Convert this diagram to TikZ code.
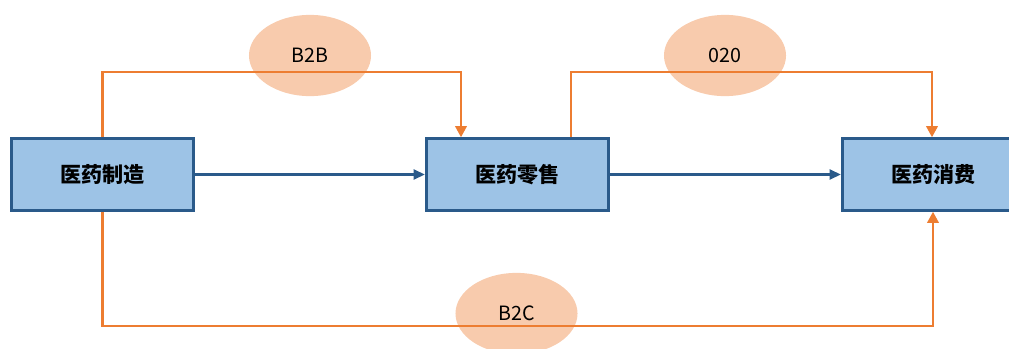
\documentclass[tikz,border=0pt]{standalone}
\usepackage{fontspec}
\newfontfamily\cjk{Noto Sans CJK SC}
\usetikzlibrary{shapes.geometric,arrows.meta}
\definecolor{boxfill}{HTML}{9DC3E6}
\definecolor{boxline}{HTML}{2A5A8A}
\definecolor{flowline}{HTML}{ED7D31}
\definecolor{modefill}{HTML}{F8CBAD}

\begin{document}
\begin{tikzpicture}[x=0.025cm, y=0.025cm]
\tikzset{
  stage/.style={draw=boxline, fill=boxfill, line width=2.2pt, minimum width=4.55cm,
    minimum height=1.78cm, inner sep=0pt, font=\cjk\bfseries\fontsize{15}{18}\selectfont},
  mode/.style={ellipse, fill=modefill, minimum width=3.05cm, minimum height=2.03cm,
    inner sep=0pt, font=\cjk\fontsize{14}{16}\selectfont},
  orangeflow/.style={flowline, line width=2pt, -{Triangle[length=8pt,width=8pt]}},
  blueflow/.style={boxline, line width=1.7pt, -{Triangle[length=8pt,width=7pt]}}
}
\useasboundingbox (0,0) rectangle (1009,-349);
\clip (0,0) rectangle (1009,-349);
% ellipses behind the lines
\node[mode] (b2b) at (310,-55.5) {B2B};
\node[mode] (o2o) at (725,-55.5) {020};
\node[mode] (b2c) at (516.5,-313.5) {B2C};
% stages
\node[stage] (make) at (102.5,-174.5) {医药制造};
\node[stage] (retail) at (517.5,-174.5) {医药零售};
\node[stage] (use) at (933.5,-174.5) {医药消费};
% turning points of the orange lines
\coordinate (b2bturn) at (461,-72);
\coordinate (o2ostart) at (571,-72);
\coordinate (o2oturn) at (932,-72);
\coordinate (b2cturn) at (933,-326);
\draw[orangeflow] (make.north) |- (b2bturn) -- (b2bturn |- retail.north);
\draw[orangeflow] (o2ostart |- retail.north) -- (o2ostart) -- (o2oturn) -- (o2oturn |- use.north);
\draw[orangeflow] (make.south) |- (b2cturn) -- (b2cturn |- use.south);
\draw[blueflow] (make.east) -- (retail.west);
\draw[blueflow] (retail.east) -- (use.west);
\end{tikzpicture}
\end{document}
